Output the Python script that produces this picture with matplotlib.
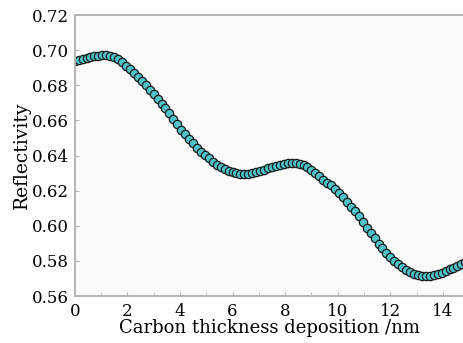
import numpy as np
import matplotlib
matplotlib.use("Agg")
import matplotlib.pyplot as plt
from matplotlib.ticker import MultipleLocator

thickness_step = 0.15
reflectivity = [
    0.6938, 0.6944, 0.6950, 0.6955, 0.6960, 0.6965, 0.6968, 0.6970, 0.6970, 0.6966,
    0.6960, 0.6948, 0.6932, 0.6912, 0.6893, 0.6871, 0.6848, 0.6825, 0.6800, 0.6775,
    0.6750, 0.6724, 0.6696, 0.6668, 0.6640, 0.6610, 0.6580, 0.6548, 0.6520, 0.6494,
    0.6469, 0.6445, 0.6422, 0.6402, 0.6385, 0.6364, 0.6347, 0.6333, 0.6321, 0.6311,
    0.6304, 0.6299, 0.6296, 0.6295, 0.6296, 0.6299, 0.6304, 0.6311, 0.6319, 0.6327,
    0.6335, 0.6342, 0.6348, 0.6353, 0.6355, 0.6356, 0.6355, 0.6351, 0.6344, 0.6334,
    0.6320, 0.6302, 0.6282, 0.6262, 0.6246, 0.6232, 0.6210, 0.6187, 0.6162, 0.6136,
    0.6109, 0.6082, 0.6053, 0.6020, 0.5988, 0.5957, 0.5928, 0.5899, 0.5871, 0.5845,
    0.5822, 0.5800, 0.5780, 0.5763, 0.5749, 0.5737, 0.5727, 0.5720, 0.5716, 0.5715,
    0.5716, 0.5720, 0.5726, 0.5733, 0.5742, 0.5752, 0.5762, 0.5773, 0.5784, 0.5796,
]
thickness_nm = np.arange(len(reflectivity)) * thickness_step

x_ticks = [0, 2, 4, 6, 8, 10, 12, 14]
y_ticks = [0.56, 0.58, 0.60, 0.62, 0.64, 0.66, 0.68, 0.70, 0.72]

plt.rcParams["font.family"] = ["DejaVu Serif"]

fig = plt.figure(figsize=(4.64, 3.43), dpi=100)
ax = fig.add_axes([0.161, 0.137, 0.839, 0.819])
ax.set_facecolor("#fafafa")

ax.plot(thickness_nm, reflectivity, "o", ms=6.0, mfc="#4fc3c9",
        mec="#1a1a1a", mew=0.9)

ax.set_xlim(0, 14.8)
ax.set_ylim(0.56, 0.72)
ax.set_xticks(x_ticks)
ax.set_yticks(y_ticks)
ax.set_yticklabels([f"{v:.2f}" for v in y_ticks])
ax.xaxis.set_minor_locator(MultipleLocator(1))

grey = "#b4b4b4"
for side in ["left", "top", "bottom"]:
    ax.spines[side].set_color(grey)
    ax.spines[side].set_linewidth(1.4)
ax.spines["right"].set_visible(False)

ax.tick_params(axis="both", which="both", direction="in", color=grey,
               labelsize=12, length=3)
ax.tick_params(axis="x", which="both", pad=5)
ax.tick_params(axis="y", which="both", pad=4)

ax.set_xlabel("Carbon thickness deposition /nm", fontsize=13, labelpad=-1)
ax.set_ylabel("Reflectivity", fontsize=13.5, labelpad=1)

fig.savefig("out.png", dpi=100)
